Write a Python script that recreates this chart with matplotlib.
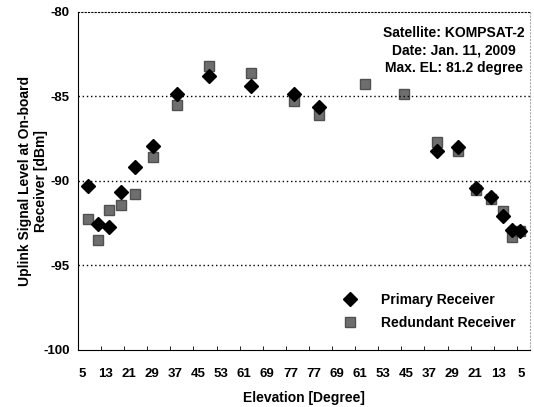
import numpy as np
from matplotlib import pyplot as plt

plt.rcParams['font.family'] = ['Liberation Sans', 'DejaVu Sans']
plt.rcParams['font.weight'] = 'bold'
plt.rcParams['axes.unicode_minus'] = False

# tick labels of the pass (rising then setting)
elev_labels = ['5', '13', '21', '29', '37', '45', '53', '61', '69', '77',
               '77', '69', '61', '53', '45', '37', '29', '21', '13', '5']

# measurement positions along the pass (in tick units)
pass_pos = [0.45, 0.87, 1.36, 1.86, 2.49, 3.25, 4.27, 5.67, 7.48, 9.37,
            10.43, 12.42, 14.13, 15.53, 16.46, 17.25, 17.88, 18.41, 18.77, 19.13]

primary = [-90.30, -92.58, -92.74, -90.68, -89.17, -87.96, -84.88, -83.80, -84.40, -84.85,
           -85.64, np.nan, np.nan, -88.24, -88.00, -90.45, -90.95, -92.10, -92.93, -92.98]
redundant = [-92.25, -93.50, -91.75, -91.42, -90.77, -88.57, -85.53, -83.22, -83.65, -85.30,
             -86.10, -84.29, -84.88, -87.70, -88.27, -90.55, -91.10, -91.80, -93.34, -92.95]

fig = plt.figure(figsize=(5.34, 4.07), dpi=100)
ax = fig.add_axes([0.146, 0.141, 0.8465, 0.830])

ax.plot(pass_pos, redundant, 's', color='#6e6e6e', markeredgecolor='#505050',
        markersize=6.5, label='Redundant Receiver')
ax.plot(pass_pos, primary, 'D', color='black', markersize=7.5, label='Primary Receiver')

ax.set_xlim(0, 19.57)
ax.set_ylim(-100, -80)
ax.set_yticks([-100, -95, -90, -85, -80])

# tick marks on the integers, labels sit a little to the right of them
ax.set_xticks(np.arange(len(elev_labels)), minor=True)
ax.set_xticks(np.arange(len(elev_labels)) + 0.2)
ax.set_xticklabels(elev_labels)
ax.tick_params(axis='x', which='minor', direction='in', length=3)
ax.tick_params(axis='x', which='major', length=0, pad=13, labelsize=9.5)
ax.tick_params(axis='y', direction='in', length=0, pad=6, labelsize=9.5)

for v in [-85, -90, -95]:
    ax.axhline(v, color='black', linestyle=(0, (1, 2)), linewidth=1)

ax.spines['top'].set_linestyle((0, (1, 2)))
ax.spines['right'].set_linestyle((0, (1, 2)))
ax.spines['right'].set_color('#aaaaaa')

ax.set_xlabel('Elevation [Degree]', fontsize=10, fontweight='bold', labelpad=8)
ax.set_ylabel('Uplink Signal Level at On-board\nReceiver [dBm]', fontsize=10,
              fontweight='bold')
ax.yaxis.set_label_coords(-0.066, 0.5)

ax.text(0.831, 0.957, 'Satellite: KOMPSAT-2\nDate: Jan. 11, 2009\nMax. EL: 81.2 degree',
        transform=ax.transAxes, ha='center', va='top', fontsize=10, fontweight='bold',
        linespacing=1.3)

handles, labels = ax.get_legend_handles_labels()
ax.legend(handles[::-1], labels[::-1], loc='lower right', bbox_to_anchor=(0.995, 0.02),
          frameon=False, fontsize=10, handletextpad=1.2, labelspacing=0.7)

fig.savefig('out.png', dpi=100)
